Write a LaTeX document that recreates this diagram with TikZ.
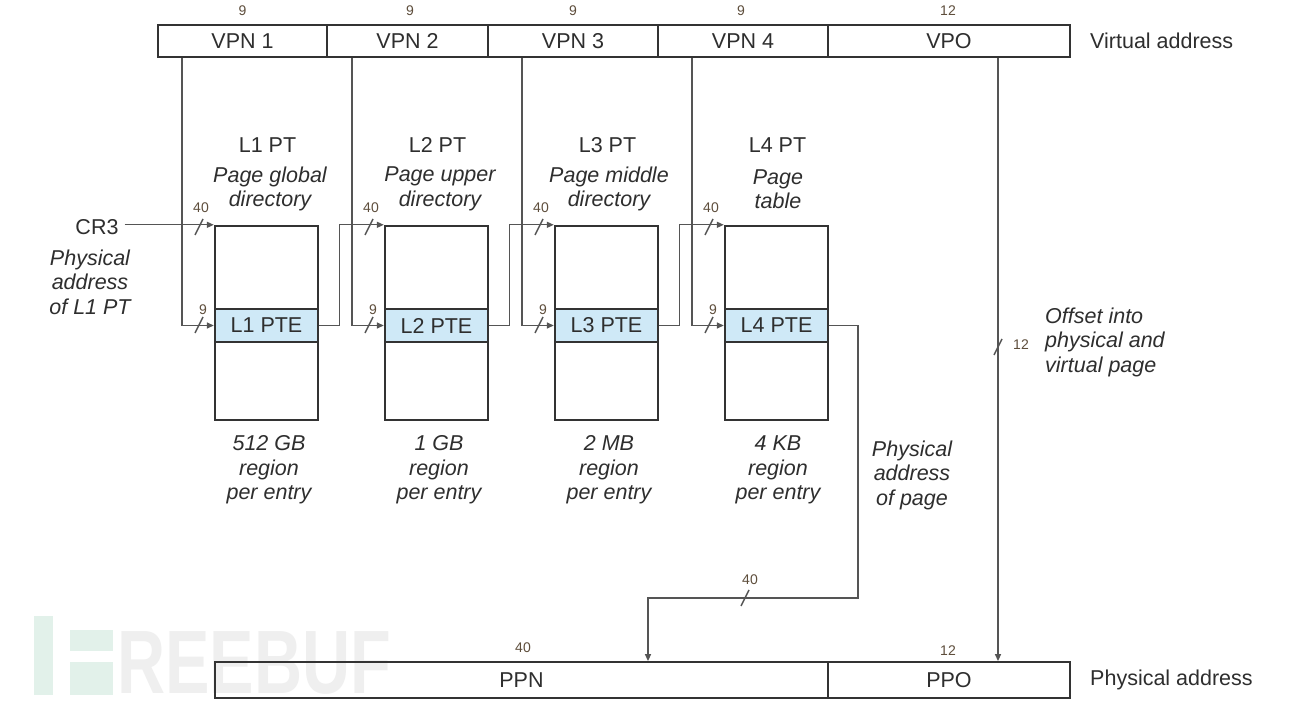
\documentclass[tikz,border=0pt]{standalone}
\usepackage{fontspec}
\setmainfont{Liberation Sans}
\usetikzlibrary{arrows.meta}
\definecolor{linec}{HTML}{555555}
\definecolor{boxc}{HTML}{333333}
\definecolor{txt}{HTML}{2E2E2E}
\definecolor{numc}{HTML}{5E4E3C}
\definecolor{ptefill}{HTML}{CFE9F7}
\definecolor{wmgreen}{HTML}{E2F1EA}
\definecolor{wmgray}{HTML}{EFEFEF}
\begin{document}
\begin{tikzpicture}[x=1pt,y=-1pt,
  cell/.style={draw=boxc, line width=1.8, minimum height=32, inner sep=0,
    font=\fontsize{21.5}{24}\selectfont, text=txt},
  tbl/.style={draw=boxc, line width=2.4, minimum width=103, minimum height=194, inner sep=0},
  pte/.style={draw=boxc, line width=2.4, fill=ptefill, minimum width=103, minimum height=33,
    inner sep=0, font=\fontsize{21.5}{24}\selectfont, text=txt},
  conn/.style={draw=linec, line width=1.4},
  arr/.style={conn, -{Triangle[length=7,width=6]}},
  lbl/.style={font=\fontsize{21.5}{24}\selectfont, text=txt, inner sep=0},
  ital/.style={font=\fontsize{21.5}{24.5}\selectfont\itshape, text=txt, align=center, inner sep=0},
  num/.style={font=\fontsize{14}{16}\selectfont, text=numc, inner sep=0},
  slash/.style={draw=linec, line width=1.4}
]
\useasboundingbox (0,0) rectangle (1300,708);
\fill[white] (0,0) rectangle (1300,708);

% watermark
\fill[wmgreen] (34,616) rectangle (53,695);
\fill[wmgreen] (70,630) rectangle (113,651);
\fill[wmgreen] (70,662) rectangle (113,695);
\node[anchor=south west, inner sep=0, text=wmgray, font=\fontsize{90}{90}\selectfont\bfseries, xscale=0.74] (wm) at (117,695) {REEBUF};

% virtual address bar
\node[cell, minimum width=169] (vpn1) at (242.5,41) {VPN 1};
\node[cell, minimum width=161] (vpn2) at (407.5,41) {VPN 2};
\node[cell, minimum width=170] (vpn3) at (573,41) {VPN 3};
\node[cell, minimum width=170] (vpn4) at (743,41) {VPN 4};
\node[cell, minimum width=242] (vpo) at (949,41) {VPO};
\node[num] (n1) at (242.5,11) {9};
\node[num] (n2) at (410,11) {9};
\node[num] (n3) at (573,11) {9};
\node[num] (n4) at (741,11) {9};
\node[num] (n5) at (948,11) {12};
\node[lbl, anchor=west] (va) at (1090,41) {Virtual address};

% page tables
\foreach \i/\x in {1/266.5,2/436.5,3/606.5,4/776.5}{
  \node[tbl] (t\i) at (\x,323) {};
  \node[pte] (p\i) at (\x,325.5) {L\i\ PTE};
  \node[lbl] (h\i) at (\x+1,145) {L\i\ PT};
}
\node[ital] (d1) at (270,189) {Page global\\directory};
\node[ital] (d2) at (440,189) {Page upper\\directory};
\node[ital] (d3) at (609,189) {Page middle\\directory};
\node[ital] (d4) at (778,189) {Page\\table};

\node[ital] (r1) at (269,470) {512 GB\\region\\per entry};
\node[ital] (r2) at (439,470) {1 GB\\region\\per entry};
\node[ital] (r3) at (609,470) {2 MB\\region\\per entry};
\node[ital] (r4) at (778,470) {4 KB\\region\\per entry};

% CR3
\node[lbl] (cr3) at (97,227) {CR3};
\node[ital] (cr3d) at (90,282) {Physical\\address\\of L1 PT};
\draw[arr] (cr3.east |- t1.north west) ++(6,0) -- (t1.north west);

% VPN connectors
\coordinate (c1) at (182,0);
\coordinate (c2) at (352,0);
\coordinate (c3) at (522,0);
\coordinate (c4) at (692,0);
\coordinate (c5) at (998,0);
\draw[arr] (vpn1.south -| c1) |- (p1.west);
\draw[arr] (vpn2.south -| c2) |- (p2.west);
\draw[arr] (vpn3.south -| c3) |- (p3.west);
\draw[arr] (vpn4.south -| c4) |- (p4.west);

% PTE -> next table
\draw[arr] (p1.east) -- ++(20,0) |- (t2.north west);
\draw[arr] (p2.east) -- ++(20,0) |- (t3.north west);
\draw[arr] (p3.east) -- ++(20,0) |- (t4.north west);

% slashes on table inputs
\foreach \x in {199,369,539,709}{
  \draw[slash] (\x-4,235) -- (\x+4,219);
  \draw[slash] (\x-4,333) -- (\x+4,317);
  \node[num] at (\x+2,208) {40};
  \node[num] at (\x+4,310) {9};
}

% physical address bar
\node[cell, minimum width=613, minimum height=36] (ppn) at (521.5,680) {PPN};
\node[cell, minimum width=242, minimum height=36] (ppo) at (949,680) {PPO};
\node[num] (n6) at (523,648) {40};
\node[num] (n7) at (948,651) {12};
\node[lbl, anchor=west] (pa) at (1090,680) {Physical address};

% L4 PTE -> PPN
\coordinate (k1) at (858,598);
\coordinate (k2) at (648,598);
\draw[arr] (p4.east) -| (k1) -- (k2) -- (k2 |- ppn.north);
\draw[slash] (741,606) -- (749,590);
\node[num] at (750,580) {40};
\node[ital] (pad) at (912,475) {Physical\\address\\of page};

% VPO -> PPO
\draw[arr] (vpo.south -| c5) -- (ppo.north -| c5);
\draw[slash] (994,355) -- (1002,339);
\node[num] at (1021,345) {12};
\node[ital, align=left, anchor=west] (off) at (1045,342) {Offset into\\physical and\\virtual page};
\end{tikzpicture}
\end{document}
